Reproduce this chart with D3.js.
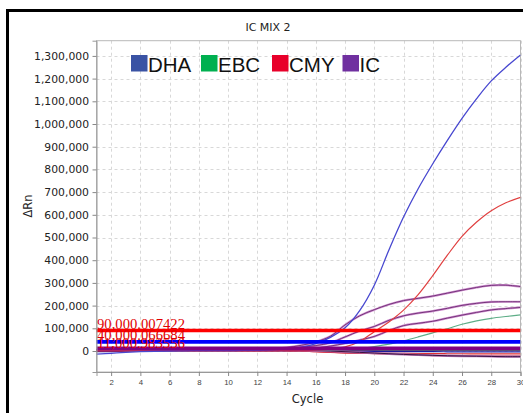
<!DOCTYPE html>
<html>
<head>
<meta charset="utf-8">
<script src="https://cdn.jsdelivr.net/npm/d3@7"></script>
<style>
  html, body { margin: 0; padding: 0; background: #fff; }
  svg { display: block; }
</style>
</head>
<body>
<svg id="chart" width="523" height="413"></svg>
<script>
// Amplification plot: ΔRn per cycle for each well, grouped by target.
const cycles = [1,2,3,4,5,6,7,8,9,10,11,12,13,14,15,16,17,18,19,20,21,22,23,24,25,26,27,28,29,30];

const dhaA = [-14000,-10000,-6000,-3000,-1000,0,1000,1500,2000,2000,2500,3000,5000,9000,17000,33000,60000,102000,178000,290000,445000,590000,715000,825000,928000,1025000,1112000,1190000,1250000,1304000];
const dhaB = [-3000,-2000,-1000,0,0,0,0,0,0,0,0,0,0,0,0,0,-1000,-1500,-2000,-2000,-2500,-3000,-3000,-3000,-3500,-3500,-4000,-4000,-4000,-4000];
const ebcA = [3000,3000,3000,3000,3000,3000,3000,3000,3000,3000,3000,3000,3000,3000,3000,3000,3000,5000,10000,19000,30000,45000,62000,80000,98000,118000,133000,144000,152000,159000];
const ebcB = [2000,2000,2000,2000,2000,2000,2000,2000,2000,2000,2000,2000,2000,2000,2000,2000,2000,2000,2000,2000,2000,2000,2000,2000,2000,2000,2000,2000,2000,2000];
const cmyA = [3000,3000,3000,3000,3000,3000,3000,3000,3000,3000,3000,3000,3000,3000,3000,4000,8000,18000,42000,85000,128000,180000,248000,332000,422000,505000,568000,618000,653000,677000];
const cmyB = [2000,2000,2000,2000,2000,2000,2000,2000,2000,2000,2000,2000,2000,2000,0,-3000,-6000,-8000,-9000,-10000,-10000,-10500,-11000,-11500,-12000,-12000,-12500,-12500,-13000,-13000];
const cmyC = [1000,1000,1000,1000,1000,1000,1000,1000,1000,1000,1000,1000,1000,1000,0,-3000,-5000,-8000,-10000,-12000,-13500,-15000,-17000,-20000,-20500,-21000,-21500,-22000,-22000,-22000];
const icA = [6000,6000,6000,6000,6000,6000,6000,6000,6000,6000,6000,6500,8000,15000,25000,40000,65000,115000,155000,182000,205000,222000,232000,242000,255000,268000,280000,289000,290000,284000];
const icB = [6000,6000,6000,6000,6000,6000,6000,6000,6000,6000,6000,6000,6000,10000,17000,24000,36000,62000,88000,108000,135000,155000,167000,176000,188000,201000,210000,216000,217000,217000];
const icC = [5000,5000,5000,5000,5000,5000,5000,5000,5000,5000,5000,5000,5000,5000,8000,13000,22000,33000,48000,64000,90000,112000,122000,131000,145000,158000,170000,181000,187000,192000];
const icD = [5000,5000,5000,5000,5000,5000,5000,5000,5000,5000,5000,5000,5000,5000,4000,2000,0,-3000,-6000,-9000,-12000,-15000,-17000,-19000,-21000,-22000,-23000,-24000,-25000,-25000];

const legendNames = ["DHA", "EBC", "CMY", "IC"];
const legendColors = ["#3a53a4", "#00b050", "#e8002a", "#7030a0"];

const thresholdValues = [90000, 40000, 11000];
const thresholdLabels = ["90,000.007422", "40,000.066684", "11,000.983556"];
const thresholdColors = ["#ff0000", "#0000ff", "#800080"];

const yTicks = [0,100000,200000,300000,400000,500000,600000,700000,800000,900000,1000000,1100000,1200000,1300000];
const xTicks = [2,4,6,8,10,12,14,16,18,20,22,24,26,28,30];

// curve sets: [values, stroke, width, halo]
const curves = [
  [ebcB, "#3a9a6a", 1.1, null],
  [dhaB, "#1a1aa0", 1.2, null],
  [cmyB, "#e03030", 1.2, null],
  [cmyC, "#d02040", 1.2, null],
  [icD, "#3a1040", 1.0, "#b070b0"],
  [ebcA, "#5fae88", 1.2, null],
  [icC, "#6a2a70", 0.9, "#d090d0"],
  [icB, "#6a2a70", 0.9, "#d090d0"],
  [icA, "#6a2a70", 0.9, "#d090d0"],
  [cmyA, "#e04040", 1.2, null],
  [dhaA, "#4848d0", 1.3, null]
];

const svg = d3.select("#chart");
const W = 523, H = 413;
const plot = { left: 96.5, right: 520.5, top: 40.7, bottom: 372 };

// outer frame
svg.append("rect").attr("x", 0).attr("y", 0).attr("width", W).attr("height", H).attr("fill", "#fff");
svg.append("rect")
  .attr("x", 7.5).attr("y", 10.5).attr("width", W + 20).attr("height", H + 20)
  .attr("fill", "none").attr("stroke", "#000").attr("stroke-width", 3);

const x = d3.scaleLinear().domain([1, 30]).range([plot.left, plot.right]);
const y = d3.scaleLinear().domain([-92500, 1367000]).range([plot.bottom, plot.top]);

// grid
const grid = svg.append("g").attr("stroke", "#d8d8d8").attr("stroke-dasharray", "3,3").attr("stroke-width", 1);
xTicks.forEach(t => grid.append("line")
  .attr("x1", Math.round(x(t)) + 0.5).attr("x2", Math.round(x(t)) + 0.5)
  .attr("y1", plot.top).attr("y2", plot.bottom));
yTicks.forEach(t => grid.append("line")
  .attr("x1", plot.left).attr("x2", plot.right)
  .attr("y1", Math.round(y(t)) + 0.5).attr("y2", Math.round(y(t)) + 0.5));

// plot border
svg.append("rect")
  .attr("x", plot.left).attr("y", plot.top)
  .attr("width", plot.right - plot.left).attr("height", plot.bottom - plot.top)
  .attr("fill", "none").attr("stroke", "#b8b8b8").attr("stroke-width", 1);

// curves
const line = d3.line()
  .x((d, i) => x(cycles[i]))
  .y(d => y(d))
  .curve(d3.curveCatmullRom.alpha(0.5));

svg.append("clipPath").attr("id", "clip").append("rect")
  .attr("x", plot.left).attr("y", plot.top)
  .attr("width", plot.right - plot.left).attr("height", plot.bottom - plot.top);

const cg = svg.append("g").attr("clip-path", "url(#clip)");
curves.forEach(([vals, color, w, halo]) => {
  if (halo) {
    cg.append("path").attr("d", line(vals)).attr("fill", "none")
      .attr("stroke", halo).attr("stroke-width", w + 1.3);
  }
  cg.append("path").attr("d", line(vals)).attr("fill", "none")
    .attr("stroke", color).attr("stroke-width", w);
});

// threshold lines
thresholdValues.forEach((v, i) => {
  cg.append("line")
    .attr("x1", plot.left).attr("x2", plot.right)
    .attr("y1", y(v)).attr("y2", y(v))
    .attr("stroke", thresholdColors[i]).attr("stroke-width", i === 2 ? 4 : 3.6);
});
thresholdValues.forEach((v, i) => {
  svg.append("text")
    .attr("x", plot.left + 0.5).attr("y", y(v) - 1.5 + (i === 2 ? 1 : 0))
    .attr("font-family", "'Liberation Serif', 'DejaVu Serif', serif")
    .attr("font-size", 15.5)
    .attr("fill", "#e00000")
    .attr("textLength", 88).attr("lengthAdjust", "spacingAndGlyphs")
    .text(thresholdLabels[i]);
});

// axes
const yAxis = svg.append("g").attr("transform", `translate(${plot.left},0)`)
  .call(d3.axisLeft(y).tickValues(yTicks).tickFormat(d3.format(",")).tickSize(4).tickPadding(3.5));
yAxis.select(".domain").attr("stroke", "#999");
yAxis.selectAll(".tick line").attr("stroke", "#888");
yAxis.selectAll("text").attr("font-family", "'DejaVu Sans', sans-serif").attr("font-size", 10.8).attr("fill", "#222");

const xAxis = svg.append("g").attr("transform", `translate(0,${plot.bottom})`)
  .call(d3.axisBottom(x).tickValues(xTicks).tickFormat(d3.format("d")).tickSize(4).tickPadding(3));
xAxis.select(".domain").attr("stroke", "#999");
xAxis.selectAll(".tick line").attr("stroke", "#888");
xAxis.selectAll("text").attr("font-family", "'Liberation Sans', Arial, sans-serif").attr("font-size", 7.8).attr("fill", "#444");

// titles
svg.append("text").attr("x", 268).attr("y", 31).attr("text-anchor", "middle")
  .attr("font-family", "'DejaVu Sans', sans-serif").attr("font-size", 11).attr("fill", "#222")
  .text("IC MIX 2");
svg.append("text").attr("x", 307.5).attr("y", 402.5).attr("text-anchor", "middle")
  .attr("font-family", "'DejaVu Sans', sans-serif").attr("font-size", 11.5).attr("fill", "#222")
  .text("Cycle");
svg.append("text").attr("transform", "translate(32,206) rotate(-90)").attr("text-anchor", "middle")
  .attr("font-family", "'DejaVu Sans', sans-serif").attr("font-size", 11.5).attr("fill", "#222")
  .text("ΔRn");

// legend
const legendX = [131, 201, 272, 342.5];
legendNames.forEach((name, i) => {
  svg.append("rect").attr("x", legendX[i]).attr("y", 55).attr("width", 16.5).attr("height", 16.5)
    .attr("fill", legendColors[i]);
  svg.append("text").attr("x", legendX[i] + 17).attr("y", 71.5)
    .attr("font-family", "'Liberation Sans', Arial, sans-serif").attr("font-size", 20.5).attr("fill", "#111")
    .text(name);
});
</script>
</body>
</html>
